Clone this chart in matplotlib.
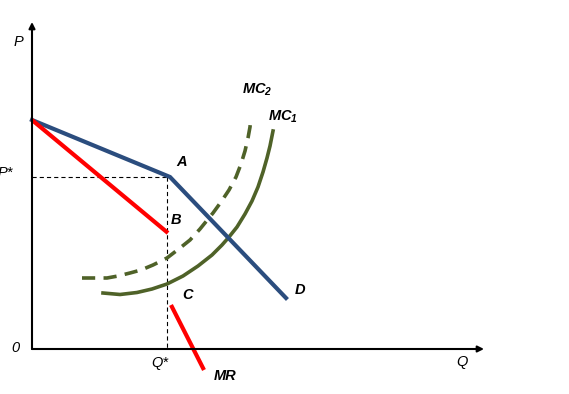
import matplotlib
matplotlib.use("Agg")
import matplotlib.pyplot as plt

plt.rcParams['font.family'] = ['Liberation Sans', 'DejaVu Sans']
plt.rcParams['mathtext.fontset'] = 'custom'
plt.rcParams['mathtext.rm'] = 'Liberation Sans'
plt.rcParams['mathtext.it'] = 'Liberation Sans:italic'
plt.rcParams['mathtext.bf'] = 'Liberation Sans:bold'
plt.rcParams['mathtext.bfit'] = 'Liberation Sans:italic:bold'
plt.rcParams['lines.scale_dashes'] = False

# 需求曲线 D (带拐点 A)
d_q = [0, 138, 254]
d_p = [229, 172, 51]

# 边际收益 MR (两段, 中间断开)
mr_upper_q = [0, 136]
mr_upper_p = [229, 116]
mr_lower_q = [139, 172]
mr_lower_p = [44, -21]

# 边际成本 MC1 (实线)
mc1_q = [71, 88, 105, 120, 135, 151, 166, 180, 190, 197, 205, 213, 220, 226, 231, 235, 238, 240, 241]
mc1_p = [56, 54.5, 56.5, 60, 65, 73, 83, 94, 104, 112, 122, 135, 148, 162, 177, 191, 203, 213, 218]

# 边际成本 MC2 (虚线)
mc2_q = [50, 63, 75, 86, 98, 109, 121, 135, 148, 158, 168, 181, 189, 197, 204, 209, 213, 216, 218, 219]
mc2_p = [71, 71, 71, 73, 76, 79, 84, 91, 101, 109, 120, 136, 147, 159, 172, 185, 198, 211, 222, 232]

# 均衡点
q_star = 135
p_star = 172

# 坐标轴长度
q_max = 452
p_max = 327

blue = '#2B4D7E'
red = '#FF0000'
green = '#4F6228'

fig = plt.figure(figsize=(5.69, 3.94), dpi=100)
ax = fig.add_axes([0, 0, 1, 1])
ax.set_xlim(-32, 537)
ax.set_ylim(-45, 349)
ax.axis('off')

# 坐标轴箭头
ax.annotate('', xy=(0, p_max), xytext=(0, 0),
            arrowprops=dict(arrowstyle='-|>', lw=1.5, color='black', mutation_scale=9,
                            shrinkA=0, shrinkB=0))
ax.annotate('', xy=(q_max, 0), xytext=(0, 0),
            arrowprops=dict(arrowstyle='-|>', lw=1.5, color='black', mutation_scale=9,
                            shrinkA=0, shrinkB=0))

# P*, Q* 虚线
ax.plot([0, q_star], [p_star, p_star], color='black', lw=0.8, dashes=(3, 2.2))
ax.plot([q_star, q_star], [p_star, 0], color='black', lw=0.8, dashes=(3, 2.2))

# 曲线
ax.plot(mc2_q, mc2_p, color=green, lw=2.6, dashes=(9.5, 6), solid_capstyle='butt')
ax.plot(mc1_q, mc1_p, color=green, lw=2.6)
ax.plot(d_q, d_p, color=blue, lw=3, solid_joinstyle='miter')
ax.plot(mr_upper_q, mr_upper_p, color=red, lw=3, solid_capstyle='butt')
ax.plot(mr_lower_q, mr_lower_p, color=red, lw=3, solid_capstyle='butt')

# 文字标签
fs = 10.5
ax.text(-14, 307, 'P', fontsize=fs, style='italic', ha='center', va='center')
ax.text(-19, 176, 'P*', fontsize=fs, style='italic', ha='right', va='center')
ax.text(-17, 1, '0', fontsize=fs, style='italic', ha='center', va='center')
ax.text(128, -14, 'Q*', fontsize=fs, style='italic', ha='center', va='center')
ax.text(430, -13, 'Q', fontsize=fs, style='italic', ha='center', va='center')

bold = dict(fontsize=fs, style='italic', fontweight='bold', ha='center', va='center')
ax.text(150, 187, 'A', **bold)
ax.text(144, 129, 'B', **bold)
ax.text(156, 54, 'C', **bold)
ax.text(268, 59, 'D', **bold)
ax.text(193, -27, 'MR', **bold)
ax.text(225, 259, r'$\mathbfit{MC}_{\mathbfit{2}}$', **bold)
ax.text(251, 232, r'$\mathbfit{MC}_{\mathbfit{1}}$', **bold)

fig.savefig('out.png', dpi=100)
